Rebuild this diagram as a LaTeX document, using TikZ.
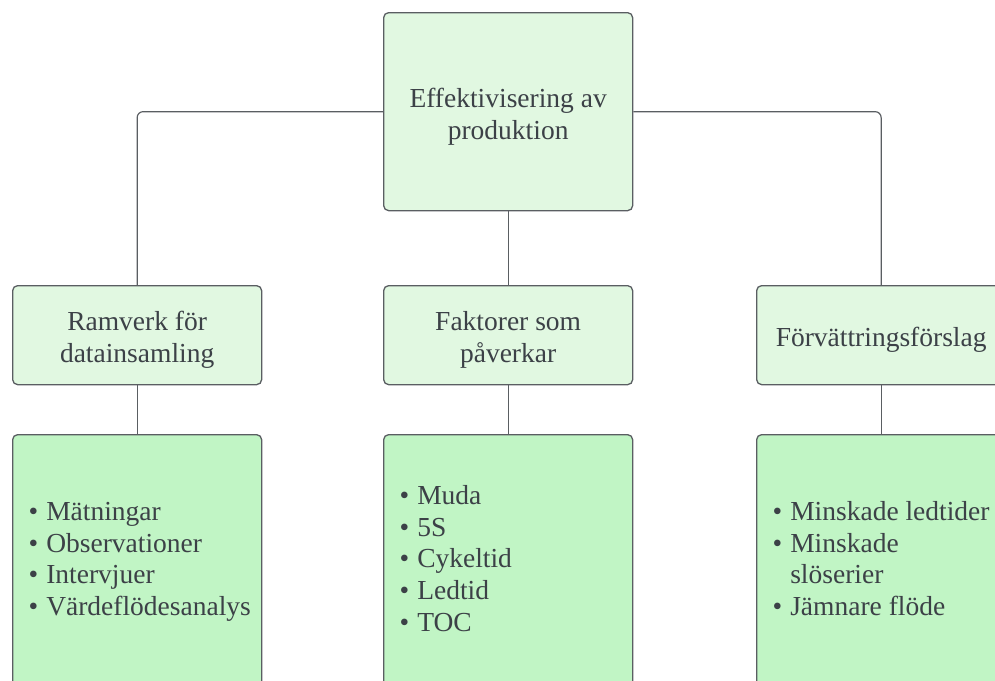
\documentclass[tikz,border=0pt]{standalone}
\usepackage{fontspec}
\setmainfont{Liberation Serif}
\definecolor{topfill}{HTML}{E1F8E1}
\definecolor{botfill}{HTML}{C1F5C5}
\definecolor{edgec}{HTML}{5A5E62}
\definecolor{txtc}{HTML}{3C4147}
\newcommand{\bul}{\textbullet}
\newcommand{\hir}{\rule{0pt}{29pt}}
\newenvironment{bullist}{\spaceskip=0pt\relax\xspaceskip=0pt\relax\begin{tabular}{@{}l@{\hspace{8pt}}l@{}}}{\end{tabular}}
\begin{document}
\begin{tikzpicture}[x=1pt,y=-1pt,
  box/.style={draw=edgec, line width=1.3pt, rounded corners=5pt, fill=topfill,
    minimum width=249pt, inner sep=0pt, anchor=north west, text=txtc, align=center,
    font=\fontsize{27.5}{31.7}\selectfont},
  listbox/.style={box, fill=botfill, minimum height=254pt, align=left,
    text width=217pt, inner xsep=16pt},
  conn/.style={draw=edgec, line width=1.2pt, rounded corners=6pt}
]
\useasboundingbox (0,0) rectangle (995,680);

\node[box, minimum height=198pt] (top) at (383,12) {\hir Effektivisering av\\produktion};

\node[box, minimum height=99pt] (m1) at (12,285) {\hir Ramverk för\\datainsamling};
\node[box, minimum height=99pt] (m2) at (383,285) {\hir Faktorer som\\påverkar};
\node[box, minimum height=99pt] (m3) at (756,285) {\hir Förvättringsförslag};

\node[listbox] (b1) at (12,434) {\begin{bullist}
\bul & Mätningar\\ \bul & Observationer\\ \bul & Intervjuer\\ \bul & Värdeflödesanalys
\end{bullist}};
\node[listbox] (b2) at (383,434) {\begin{bullist}
\bul & Muda\\ \bul & 5S\\ \bul & Cykeltid\\ \bul & Ledtid\\ \bul & TOC
\end{bullist}};
\node[listbox] (b3) at (756,434) {\begin{bullist}
\bul & Minskade ledtider\\ \bul & Minskade\\ & slöserier\\ \bul & Jämnare flöde
\end{bullist}};

\draw[conn] (top.west) -| (m1.north);
\draw[conn] (top.east) -| (m3.north);
\draw[conn] (top.south) -- (m2.north);
\draw[conn] (m1.south) -- (b1.north);
\draw[conn] (m2.south) -- (b2.north);
\draw[conn] (m3.south) -- (b3.north);
\end{tikzpicture}
\end{document}
